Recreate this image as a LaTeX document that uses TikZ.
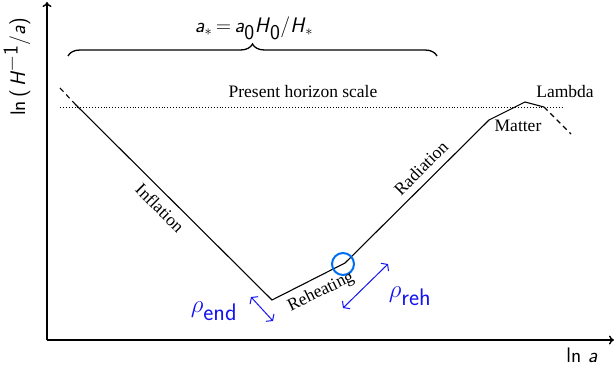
\documentclass[tikz,border=0pt]{standalone}
\usepackage{fontspec}
\setmainfont{Liberation Serif}
\usetikzlibrary{arrows.meta,decorations.pathreplacing}
\newcommand\sfi[1]{\textsf{\textit{#1}}}
\definecolor{arrblue}{RGB}{20,20,240}
\definecolor{circblue}{RGB}{0,110,240}
\begin{document}
\begin{tikzpicture}[x=1pt,y=-1pt,
  axis/.style={line width=1.4pt,-{To[length=5pt,width=9pt]}},
  curve/.style={line width=1.1pt},
  dashcurve/.style={line width=1.1pt,dash pattern=on 5pt off 4pt},
  lbl/.style={font=\fontsize{17.5}{20}\selectfont,inner sep=0pt},
  sflbl/.style={font=\fontsize{21}{24}\selectfont\sffamily,inner sep=1pt},
  bluearr/.style={arrblue,line width=1pt,{Straight Barb[length=4pt,width=11pt]}-{Straight Barb[length=4pt,width=11pt]}},
  bluelbl/.style={arrblue,font=\fontsize{24}{26}\selectfont\sffamily,inner sep=1pt}]
\useasboundingbox (0,0) rectangle (615,367);
% axes
\coordinate (O) at (47,340);
\coordinate (ytop) at (47,2);
\coordinate (xend) at (614,340);
\draw[axis] (O) -- (ytop);
\draw[axis] (O) -- (xend);
\node[sflbl,rotate=90] (ylab) at (17,67) {ln\,(\,\sfi{H}$^{\textsf{−1}}$/\sfi{a})};
\node[sflbl] (xlab) at (582,355) {ln \sfi{a}};
% brace
\coordinate (bl) at (68,56);
\coordinate (br) at (437,56);
\draw[line width=1.3pt,decorate,decoration={brace,amplitude=12pt}] (bl) -- (br);
\node[sflbl] (alab) at (254,28) {\sfi{a}$_*$\,=\,\sfi{a}$_{\textsf{0}}$\sfi{H}$_{\textsf{0}}$/\sfi{H}$_*$};
% present horizon
\coordinate (dl) at (60,107);
\coordinate (dr) at (564,107);
\draw[line width=0.9pt,dotted] (dl) -- (dr);
\node[lbl] (phs) at (303,92) {Present horizon scale};
% curve
\coordinate (c0) at (60,88);
\coordinate (c1) at (75,104);
\coordinate (c2) at (272,300);
\coordinate (c3) at (345,263);
\coordinate (c4) at (489,120);
\coordinate (c5) at (525,102);
\coordinate (c6) at (544,107);
\coordinate (c7) at (571,134);
\draw[dashcurve] (c0) -- (c1);
\draw[curve] (c1) -- (c2) -- (c3) -- (c4) -- (c5) -- (c6);
\draw[dashcurve] (c6) -- (c7);
\draw[circblue,line width=2pt] (343,264) circle (11pt);
% labels
\node[lbl,rotate=-45] (infl) at (160,208) {Inflation};
\node[lbl,rotate=45] (rad) at (421,168) {Radiation};
\node[lbl,rotate=26] (reh) at (321,292) {Reheating};
\node[lbl] (mat) at (518,126) {Matter};
\node[lbl] (lam) at (565,92) {Lambda};
% blue arrows
\coordinate (ea) at (251,297);
\coordinate (eb) at (273,321);
\draw[bluearr] (ea) -- (eb);
\node[bluelbl] (rend) at (214,311) {$\rho_{\textsf{end}}$};
\coordinate (ra) at (343,308);
\coordinate (rb) at (388,264);
\draw[bluearr] (ra) -- (rb);
\node[bluelbl] (rreh) at (410,296) {$\rho_{\textsf{reh}}$};
\end{tikzpicture}
\end{document}
